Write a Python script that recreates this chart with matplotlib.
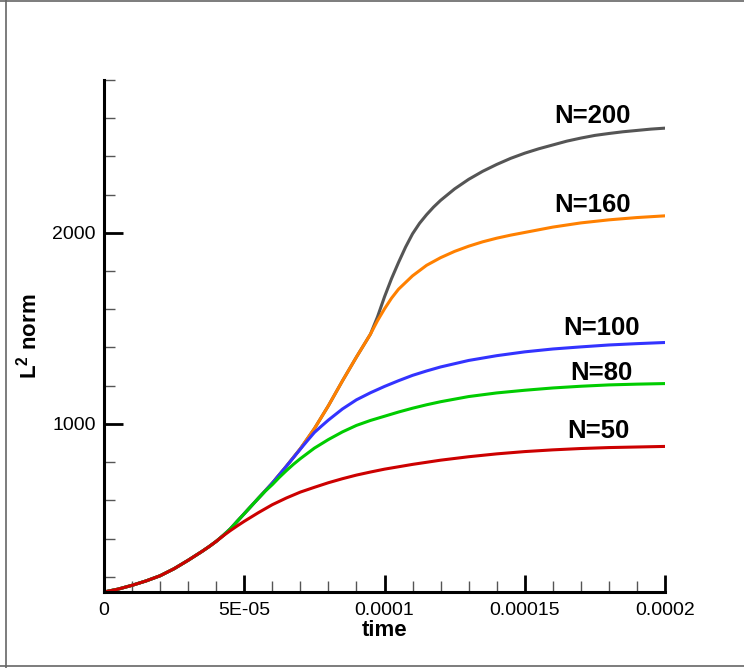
import matplotlib
matplotlib.use('Agg')
import matplotlib.pyplot as plt
from matplotlib.lines import Line2D

plt.rcParams['font.family'] = ['Liberation Sans', 'DejaVu Sans']
plt.rcParams['mathtext.fontset'] = 'custom'
plt.rcParams['mathtext.bf'] = 'Liberation Sans:bold'
plt.rcParams['mathtext.rm'] = 'Liberation Sans'

# time in units of 1e-5 s, L2 norm
t_50 = [0, 0.5, 1.0, 1.5, 2.0, 2.5, 3.0, 3.5, 3.75, 4.0, 4.25, 4.5, 4.75, 5.0, 5.5, 6.0, 6.5,
        7.0, 7.5, 8.0, 8.5, 9.0, 9.5, 10, 11, 12, 13, 14, 15, 16, 17, 18, 19, 20]
v_50 = [120, 135, 155, 178, 205, 242, 286, 333, 358, 385, 414, 441, 466, 490, 535, 577, 612,
        643, 668, 692, 713, 732, 748, 763, 788, 810, 828, 843, 855, 864, 871, 876, 879, 882]

t_80 = [0, 0.5, 1.0, 1.5, 2.0, 2.5, 3.0, 3.5, 3.75, 4.0, 4.25, 4.5, 5.0, 5.5, 5.75, 6.0,
        6.25, 6.5, 6.75, 7.0, 7.5, 8.0, 8.5, 9.0, 9.5, 10, 10.5, 11, 11.5, 12, 13, 14, 15,
        16, 17, 18, 19, 20]
v_80 = [120, 135, 155, 178, 205, 242, 286, 333, 358, 385, 416, 450, 530, 610, 648, 682,
        720, 755, 788, 818, 873, 918, 958, 992, 1018, 1040, 1062, 1082, 1100, 1116, 1143,
        1162, 1176, 1188, 1197, 1204, 1208, 1211]

t_100 = [0, 0.5, 1.0, 1.5, 2.0, 2.5, 3.0, 3.5, 3.75, 4.0, 4.25, 4.5, 5.0, 5.5, 6.0, 6.5,
         7.0, 7.25, 7.5, 7.75, 8.0, 8.5, 9.0, 9.5, 10, 10.5, 11, 11.5, 12, 13, 14, 15, 16,
         17, 18, 19, 20]
v_100 = [120, 135, 155, 178, 205, 242, 286, 333, 358, 385, 416, 450, 530, 610, 690, 778,
         868, 912, 955, 988, 1020, 1078, 1126, 1163, 1196, 1226, 1254, 1277, 1298, 1332,
         1357, 1377, 1392, 1403, 1413, 1420, 1426]

t_160 = [0, 0.5, 1.0, 1.5, 2.0, 2.5, 3.0, 3.5, 3.75, 4.0, 4.25, 4.5, 5.0, 5.5, 6.0, 6.5,
         7.0, 7.5, 8.0, 8.5, 9.0, 9.5, 9.75, 10, 10.25, 10.5, 11, 11.5, 12, 12.5, 13, 13.5,
         14, 14.5, 15, 16, 17, 18, 19, 20]
v_160 = [120, 135, 155, 178, 205, 242, 286, 333, 358, 385, 416, 450, 530, 610, 690, 778,
         870, 975, 1095, 1225, 1350, 1470, 1540, 1602, 1658, 1705, 1775, 1830, 1870, 1903,
         1930, 1953, 1972, 1988, 2002, 2030, 2052, 2068, 2080, 2089]

t_200 = [0, 0.5, 1.0, 1.5, 2.0, 2.5, 3.0, 3.5, 3.75, 4.0, 4.25, 4.5, 5.0, 5.5, 6.0, 6.5,
         7.0, 7.5, 8.0, 8.5, 9.0, 9.5, 9.75, 10, 10.25, 10.5, 10.75, 11, 11.25, 11.5, 11.75,
         12, 12.5, 13, 13.5, 14, 14.5, 15, 15.5, 16, 16.5, 17, 17.5, 18, 18.5, 19, 19.5, 20]
v_200 = [120, 135, 155, 178, 205, 242, 286, 333, 358, 385, 416, 450, 530, 610, 690, 778,
         870, 975, 1095, 1225, 1350, 1470, 1560, 1665, 1760, 1845, 1925, 1995, 2050, 2095,
         2135, 2170, 2230, 2280, 2322, 2358, 2390, 2417, 2440, 2460, 2480, 2496, 2510, 2520,
         2529, 2536, 2543, 2548]

x_ticks = [0, 5e-5, 1e-4, 1.5e-4, 2e-4]
x_ticklabels = ['0', '5E-05', '0.0001', '0.00015', '0.0002']
y_ticks = [1000, 2000]

fig = plt.figure(figsize=(7.44, 6.68), dpi=100)
ax = fig.add_axes([104 / 744, 1 - 592 / 668, 561 / 744, 512 / 668])

lw = 2.2
series = [(t_200, v_200, '#555555'), (t_160, v_160, '#ff8000'),
          (t_100, v_100, '#3333ff'), (t_80, v_80, '#00cc00'), (t_50, v_50, '#cc0000')]
for t, v, c in series:
    ax.plot([x * 1e-5 for x in t], v, color=c, lw=lw, solid_joinstyle='round')

# curve labels
lab = dict(fontsize=18.5, fontweight='bold', ha='center', va='center')
ax.text(1.742e-4, 2611, 'N=200', **lab)
ax.text(1.742e-4, 2146, 'N=160', **lab)
ax.text(1.774e-4, 1504, 'N=100', **lab)
ax.text(1.774e-4, 1264, 'N=80', **lab)
ax.text(1.763e-4, 961, 'N=50', **lab)

ax.set_xlim(0, 2e-4)
ax.set_ylim(120, 2800)

ax.set_xticks(x_ticks)
ax.set_xticklabels(x_ticklabels)
ax.set_xticks([i * 1e-5 for i in range(21)], minor=True)
ax.set_yticks(y_ticks)
ax.set_yticks([i * 200 for i in range(1, 15)], minor=True)

ax.tick_params(axis='both', which='major', direction='in', labelsize=14, width=2)
ax.tick_params(axis='x', which='major', length=12, pad=7)
ax.tick_params(axis='y', which='major', length=14, pad=6)
ax.tick_params(axis='both', which='minor', direction='in', length=8, width=1, color='#555555')

for side in ['top', 'right']:
    ax.spines[side].set_visible(False)
for side in ['left', 'bottom']:
    ax.spines[side].set_linewidth(2.2)

ax.set_xlabel('time', fontsize=16, fontweight='bold', labelpad=1)
ax.set_ylabel(r'L$^{\mathbf{2}}$ norm', fontsize=16, fontweight='bold', labelpad=8)

# thin frame around the picture
fc = '#666666'
fig.add_artist(Line2D([6.5 / 744, 6.5 / 744], [0, 1], color=fc, lw=1.2))
fig.add_artist(Line2D([0, 1], [1 - 0.8 / 668, 1 - 0.8 / 668], color=fc, lw=1.2))
fig.add_artist(Line2D([0, 1], [1 - 666 / 668, 1 - 666 / 668], color=fc, lw=1.2))

fig.savefig('out.png', dpi=100)
